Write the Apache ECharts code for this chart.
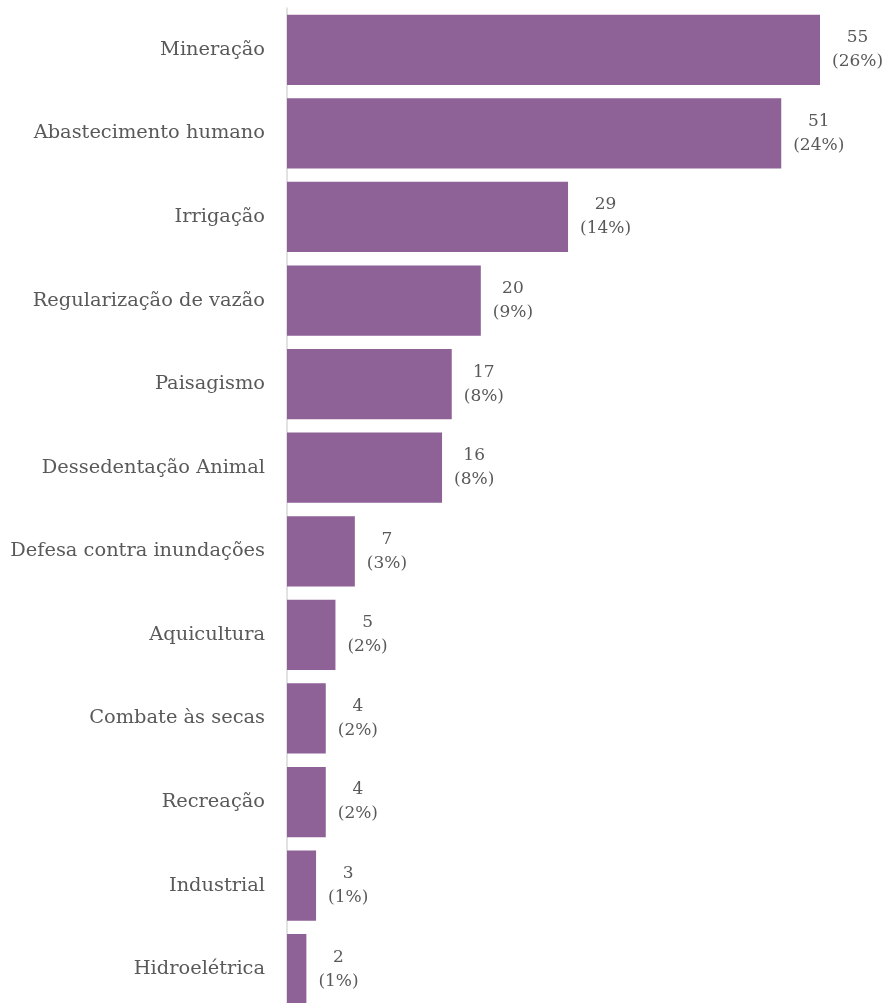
<!DOCTYPE html>
<html>
<head>
<meta charset="utf-8">
<script src="https://cdn.jsdelivr.net/npm/echarts@6/dist/echarts.min.js"></script>
<style>html,body{margin:0;padding:0;background:#fff;}#c{width:885px;height:1003px;}</style>
</head>
<body>
<div id="c"></div>
<script>
const categories = ["Mineração","Abastecimento humano","Irrigação","Regularização de vazão","Paisagismo","Dessedentação Animal","Defesa contra inundações","Aquicultura","Combate às secas","Recreação","Industrial","Hidroelétrica"];
const values = [55,51,29,20,17,16,7,5,4,4,3,2];
const percents = [26,24,14,9,8,8,3,2,2,2,1,1];

const FONT = "DejaVu Serif";
const chart = echarts.init(document.getElementById('c'), null, {renderer:'canvas'});
chart.setOption({
  animation:false,
  grid:{left:287, right:65, top:8, height:1003, outerBoundsMode:'none', containLabel:false},
  xAxis:{type:'value', min:0, max:55, show:false},
  yAxis:{type:'category', data:categories, inverse:true,
    axisLine:{show:true, lineStyle:{color:'#d9d9d9', width:1.5}},
    axisTick:{show:false},
    axisLabel:{color:'#595959', fontFamily:FONT, fontSize:19.4, margin:22}
  },
  series:[{type:'bar', data:values, barCategoryGap:'16%',
    itemStyle:{color:'#8e6197'},
    label:{show:true, position:'right', distance:12,
      formatter:(p)=>'{a|'+p.value+'}\n{a|('+percents[p.dataIndex]+'%)}',
      rich:{a:{align:'center', color:'#595959', fontFamily:FONT, fontSize:17, lineHeight:24}}
    }
  }]
});
</script>
</body>
</html>
